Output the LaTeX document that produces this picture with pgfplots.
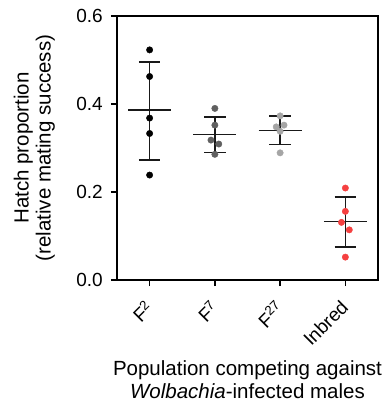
\documentclass[border=0pt]{standalone}
\usepackage{pgfplots}
\pgfplotsset{compat=1.18}
\usepackage{fontspec}
\setmainfont{Liberation Sans}
\definecolor{cF7}{RGB}{96,96,96}
\definecolor{cF27}{RGB}{165,165,165}
\definecolor{cInb}{RGB}{245,64,64}
\definecolor{lineC}{RGB}{25,25,25}
\begin{document}
\begin{tikzpicture}
\begin{axis}[
  scale only axis,
  width=261pt, height=264pt,
  xmin=-0.5, xmax=3.5,
  ymin=0, ymax=0.6,
  axis line style={line width=1.5pt, black},
  tick pos=left,
  tick align=outside,
  major tick length=6pt,
  tick style={line width=1.5pt, black},
  xtick={0,1,2,3},
  xticklabels={F\textsuperscript{2},F\textsuperscript{7},F\textsuperscript{27},Inbred},
  ytick={0,0.2,0.4,0.6},
  yticklabel style={font=\fontsize{19}{22}\selectfont, inner sep=0pt, xshift=-8pt,
    /pgf/number format/fixed, /pgf/number format/fixed zerofill,
    /pgf/number format/precision=1, /pgf/number format/assume math mode=true},
  xticklabel style={font=\fontsize{19}{22}\selectfont, rotate=45, anchor=north east, inner sep=0pt, yshift=-5pt, xshift=-13pt},
  unbounded coords=jump,
  clip=false,
]
% individual points
\addplot[only marks, mark=*, mark size=3.2pt, black] coordinates {
  (0,0.523) (0,0.4625) (0,0.368) (0,0.333) (0,0.2385)};
\addplot[only marks, mark=*, mark size=3.2pt, cF7, mark options={draw=cF7, fill=cF7}] coordinates {
  (1,0.390) (1,0.352) (0.94,0.318) (1.06,0.309) (1,0.2856)};
\addplot[only marks, mark=*, mark size=3.2pt, cF27, mark options={draw=cF27, fill=cF27}] coordinates {
  (2,0.373) (1.94,0.348) (2.06,0.352) (2,0.338) (2,0.289)};
\addplot[only marks, mark=*, mark size=3.2pt, cInb, mark options={draw=cInb, fill=cInb}] coordinates {
  (3,0.209) (3,0.156) (2.94,0.131) (3.06,0.114) (3,0.052)};
% mean and error bars
\addplot[lineC, line width=1.6pt, no marks] coordinates {
  (-0.33,0.386) (0.33,0.386) (nan,nan)
  (-0.165,0.496) (0.165,0.496) (nan,nan)
  (-0.165,0.273) (0.165,0.273) (nan,nan)
  (0,0.273) (0,0.496)};
\addplot[lineC, line width=1.6pt, no marks] coordinates {
  (0.67,0.331) (1.33,0.331) (nan,nan)
  (0.835,0.371) (1.165,0.371) (nan,nan)
  (0.835,0.290) (1.165,0.290) (nan,nan)
  (1,0.290) (1,0.371)};
\addplot[lineC, line width=1.6pt, no marks] coordinates {
  (1.67,0.340) (2.33,0.340) (nan,nan)
  (1.835,0.373) (2.165,0.373) (nan,nan)
  (1.835,0.308) (2.165,0.308) (nan,nan)
  (2,0.308) (2,0.373)};
\addplot[lineC, line width=1.6pt, no marks] coordinates {
  (2.67,0.133) (3.33,0.133) (nan,nan)
  (2.835,0.189) (3.165,0.189) (nan,nan)
  (2.835,0.0744) (3.165,0.0744) (nan,nan)
  (3,0.0744) (3,0.189)};
\coordinate (o) at (rel axis cs:0,0);
\node[rotate=90, anchor=south, align=center, inner sep=0pt, font=\fontsize{20.5}{22}\selectfont]
  at ([xshift=-62pt]rel axis cs:0,0.5) {Hatch proportion\\(relative mating success)};
\node[anchor=north, align=center, inner sep=0pt, font=\fontsize{20.5}{23}\selectfont]
  at ([yshift=-80pt]rel axis cs:0.5,0) {Population competing against\\\textit{Wolbachia}-infected males};
\end{axis}
\pgfresetboundingbox
\path[use as bounding box] ([shift={(-117pt,-125pt)}]o) rectangle ++(390pt,405pt);
\end{tikzpicture}
\end{document}
